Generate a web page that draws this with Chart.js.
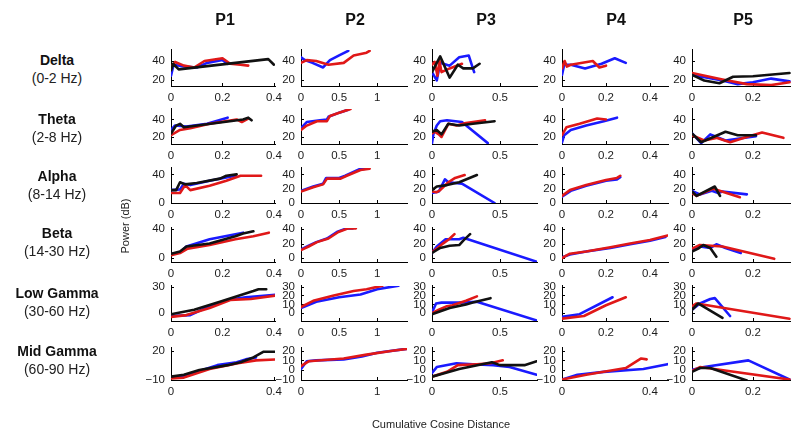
<!DOCTYPE html>
<html>
<head>
<meta charset="utf-8">
<script src="https://cdn.jsdelivr.net/npm/chart.js@4.4.1/dist/chart.umd.min.js"></script>
<style>
    body {
        margin: 0;
        width: 791px;
        height: 435px;
        overflow: hidden;
        background: #fff;
        position: relative;
        font-family: "Liberation Sans", Arial, sans-serif;
    }
    canvas { position: absolute; }
    .label {
        position: absolute;
        white-space: nowrap;
        transform: translate(-50%, -50%);
        color: #111;
    }
    .title { font-weight: bold; font-size: 16px; }
    .band { font-weight: bold; font-size: 14px; }
    .range { font-size: 14px; color: #222; }
    .axis-title { font-size: 11px; color: #222; }
</style>
</head>
<body>
<script>
// power vs cumulative cosine distance, one list per participant (P1..P5), [distance, dB]
const deltaBlue = [
    [[0, 24], [0.01, 36], [0.05, 34], [0.1, 33], [0.14, 38], [0.2, 41], [0.22, 37]],
    [[0, 44], [0.05, 41], [0.15, 38], [0.29, 33], [0.38, 41], [0.5, 46], [0.62, 51]],
    [[0, 28], [0.035, 19], [0.06, 38], [0.13, 35], [0.2, 44], [0.27, 46], [0.29, 37], [0.31, 28]],
    [[0, 25], [0.01, 36], [0.04, 36], [0.105, 32], [0.18, 37], [0.24, 43], [0.29, 38]],
    [[0, 25], [0.1, 19], [0.15, 15], [0.2, 17], [0.26, 21], [0.32, 18]]
];
const deltaRed = [
    [[0, 33], [0.016, 39], [0.05, 35], [0.09, 33], [0.13, 40], [0.2, 43], [0.23, 37], [0.27, 36], [0.3, 35]],
    [[0, 38], [0.075, 41], [0.2, 40], [0.36, 36], [0.56, 38], [0.69, 46], [0.86, 49], [0.9, 51]],
    [[0, 36], [0.02, 39], [0.04, 24], [0.055, 40], [0.07, 28], [0.13, 32], [0.22, 37]],
    [[0, 32], [0.012, 40], [0.022, 34], [0.04, 36], [0.14, 40], [0.17, 33], [0.2, 35]],
    [[0, 27], [0.1, 20], [0.18, 15], [0.26, 14], [0.32, 17]]
];
const deltaBlack = [
    [[0, 30], [0.008, 37], [0.03, 31], [0.378, 42], [0.4, 36]],
    null,
    [[0, 28], [0.06, 45], [0.13, 22], [0.19, 36], [0.23, 32], [0.3, 32], [0.35, 37]],
    null,
    [[0, 25], [0.04, 19], [0.09, 16], [0.135, 23], [0.2, 23.5], [0.32, 27]]
];

const thetaBlue = [
    [[0, 28], [0.015, 33], [0.06, 32], [0.14, 35], [0.22, 42]],
    [[0, 30], [0.075, 37], [0.25, 39], [0.34, 40], [0.36, 43], [0.51, 48], [0.62, 51]],
    [[0, 13], [0.01, 23], [0.035, 33], [0.06, 38], [0.11, 39], [0.22, 37], [0.41, 13]],
    [[0, 14], [0.01, 22], [0.04, 28], [0.11, 33], [0.19, 38], [0.25, 42]],
    [[0, 24], [0.03, 13], [0.06, 23], [0.11, 16], [0.15, 18], [0.21, 21]]
];
const thetaRed = [
    [[0, 22], [0.035, 28], [0.075, 30], [0.15, 35], [0.255, 40], [0.275, 37], [0.3, 41]],
    [[0, 28], [0.075, 33], [0.21, 38], [0.34, 38], [0.38, 44], [0.51, 48], [0.65, 52]],
    [[0, 24], [0.02, 26], [0.05, 23], [0.07, 20], [0.12, 35], [0.18, 33], [0.25, 36], [0.39, 39]],
    [[0, 22], [0.02, 31], [0.08, 35], [0.16, 41], [0.2, 40]],
    [[0, 22], [0.04, 16], [0.08, 19], [0.125, 14], [0.19, 21], [0.23, 25], [0.3, 19]]
];
const thetaBlack = [
    [[0, 24], [0.02, 33], [0.035, 35], [0.05, 31], [0.28, 40], [0.3, 42], [0.313, 39]],
    null,
    [[0, 26], [0.035, 28], [0.07, 23], [0.12, 35], [0.2, 33], [0.3, 35], [0.46, 38]],
    null,
    [[0, 24], [0.03, 14], [0.11, 26], [0.15, 22], [0.21, 22]]
];

const alphaBlue = [
    [[0, 18], [0.035, 19], [0.05, 27], [0.075, 25], [0.15, 31], [0.25, 38]],
    [[0, 17], [0.16, 23], [0.29, 27], [0.33, 35], [0.5, 35], [0.58, 38], [0.76, 47], [0.85, 48]],
    [[0, 14], [0.05, 16], [0.095, 33], [0.12, 29], [0.22, 27], [0.46, 0]],
    [[0, 9], [0.04, 17], [0.11, 24], [0.2, 31], [0.25, 33], [0.265, 36]],
    [[0, 17], [0.026, 12], [0.065, 17], [0.086, 14], [0.1, 16], [0.18, 12]]
];
const alphaRed = [
    [[0, 14], [0.035, 14], [0.055, 25], [0.075, 18], [0.15, 24], [0.215, 31], [0.27, 38], [0.35, 38]],
    [[0, 16], [0.16, 22], [0.29, 26], [0.34, 34], [0.52, 34], [0.6, 38], [0.78, 46], [0.9, 48]],
    [[0, 16], [0.035, 15], [0.06, 18], [0.12, 29], [0.17, 35], [0.24, 39]],
    [[0, 10], [0.036, 18], [0.11, 25], [0.2, 32], [0.25, 35], [0.265, 38]],
    [[0, 14], [0.015, 10], [0.07, 20], [0.157, 8]]
];
const alphaBlack = [
    [[0, 18], [0.02, 18], [0.035, 29], [0.055, 26], [0.1, 28], [0.19, 34], [0.215, 38], [0.255, 40]],
    null,
    [[0, 18], [0.035, 23], [0.11, 25], [0.2, 29], [0.33, 39]],
    null,
    [[0, 16], [0.015, 10], [0.075, 23], [0.092, 10]]
];

const betaBlue = [
    [[0, 5], [0.035, 8], [0.06, 16], [0.15, 26], [0.28, 35]],
    [[0, 12], [0.1, 17], [0.2, 22], [0.34, 27], [0.47, 36], [0.6, 41], [0.68, 41]],
    [[0, 7], [0.035, 16], [0.1, 26], [0.2, 26], [0.23, 28], [0.77, -5]],
    [[0, 1], [0.036, 5], [0.11, 9], [0.22, 14], [0.31, 19], [0.4, 24], [0.47, 29]],
    [[0, 11], [0.026, 16], [0.06, 14], [0.08, 19], [0.11, 14], [0.16, 7]]
];
const betaRed = [
    [[0, 4], [0.035, 7], [0.065, 13], [0.15, 18], [0.25, 26], [0.32, 30], [0.38, 35]],
    [[0, 11], [0.1, 16], [0.21, 22], [0.36, 27], [0.49, 36], [0.62, 41], [0.72, 41]],
    [[0, 8], [0.035, 13], [0.08, 20], [0.125, 26], [0.165, 33]],
    [[0, 0], [0.036, 6], [0.11, 9], [0.22, 15], [0.31, 20], [0.4, 25], [0.48, 31]],
    [[0, 13], [0.026, 18], [0.1, 16], [0.27, -1]]
];
const betaBlack = [
    [[0, 6], [0.035, 9], [0.06, 16], [0.15, 20], [0.25, 30], [0.28, 34], [0.32, 37]],
    null,
    [[0, 7], [0.06, 14], [0.13, 17], [0.2, 18], [0.23, 24], [0.28, 33]],
    null,
    [[0, 9], [0.02, 13], [0.037, 18], [0.06, 14], [0.08, 2]]
];

const lowGammaBlue = [
    [[0, -3], [0.075, -2], [0.15, 8], [0.22, 15], [0.29, 18], [0.41, 21]],
    [[0, 6], [0.2, 13], [0.5, 18], [0.78, 21], [1.0, 27], [1.28, 31]],
    [[0, 1], [0.03, 11], [0.07, 12], [0.2, 12], [0.33, 13], [0.77, -8]],
    [[0, -4], [0.08, -1], [0.23, 18]],
    [[0, 4], [0.026, 11], [0.06, 16], [0.075, 17], [0.125, -3]]
];
const lowGammaRed = [
    [[0, -4], [0.06, -2], [0.15, 6], [0.23, 15], [0.31, 16], [0.41, 20]],
    [[0, 7], [0.16, 14], [0.43, 20], [0.69, 25], [0.86, 27], [1.07, 31]],
    [[0, 0], [0.05, 4], [0.11, 8], [0.15, 9], [0.25, 14], [0.33, 19]],
    [[0, -6], [0.1, -3], [0.2, 9], [0.29, 18]],
    [[0, 8], [0.015, 11], [0.32, -6]]
];
const lowGammaBlack = [
    [[0, -1], [0.035, 1], [0.09, 4], [0.19, 13], [0.32, 25], [0.34, 27], [0.37, 27]],
    null,
    [[0, -1], [0.13, 6], [0.25, 10], [0.3, 12], [0.43, 17]],
    null,
    [[0, 4], [0.02, 11], [0.1, -5]]
];

const midGammaBlue = [
    [[0, -8], [0.05, -7], [0.11, -1], [0.18, 5], [0.255, 8], [0.29, 11], [0.33, 13]],
    [[0, 1], [0.075, 9], [0.2, 10], [0.56, 11], [0.8, 14], [1.0, 18], [1.38, 22]],
    [[0, -3], [0.035, 3], [0.18, 7], [0.3, 6], [0.45, 5], [0.57, 3], [0.77, -5]],
    [[0, -10], [0.07, -5], [0.19, -2], [0.37, 1], [0.48, 6]],
    [[0, 0], [0.04, 3], [0.185, 10], [0.32, -10]]
];
const midGammaRed = [
    [[0, -9], [0.05, -8], [0.15, 1], [0.26, 7], [0.33, 10], [0.41, 11]],
    [[0, 4], [0.1, 9], [0.56, 12], [0.86, 16], [1.2, 20], [1.39, 22]],
    [[0, -7], [0.11, -2], [0.19, 5], [0.33, 6], [0.43, 7], [0.52, 10]],
    [[0, -10], [0.11, -5], [0.29, 2], [0.36, 12], [0.385, 11]],
    [[0, -1], [0.026, 3], [0.32, -10]]
];
const midGammaBlack = [
    [[0, -7], [0.05, -5], [0.11, 0], [0.22, 5], [0.27, 8], [0.32, 13], [0.36, 19], [0.41, 19]],
    null,
    [[0, -7], [0.2, 1], [0.44, 8], [0.5, 5], [0.68, 5], [0.77, 9]],
    null,
    [[0, -2], [0.026, 2], [0.06, 2], [0.18, -11]]
];

const participants = ['P1', 'P2', 'P3', 'P4', 'P5'];
const bands = ['Delta', 'Theta', 'Alpha', 'Beta', 'Low Gamma', 'Mid Gamma'];
const bandRanges = ['(0-2 Hz)', '(2-8 Hz)', '(8-14 Hz)', '(14-30 Hz)', '(30-60 Hz)', '(60-90 Hz)'];

const blueSets = [deltaBlue, thetaBlue, alphaBlue, betaBlue, lowGammaBlue, midGammaBlue];
const redSets = [deltaRed, thetaRed, alphaRed, betaRed, lowGammaRed, midGammaRed];
const blackSets = [deltaBlack, thetaBlack, alphaBlack, betaBlack, lowGammaBlack, midGammaBlack];

// axis limits and tick labels
const xMax = [0.404, 1.39, 0.772, 0.482, 0.348];
const xTicks = [[0, 0.2, 0.4], [0, 0.5, 1], [0, 0.5], [0, 0.2, 0.4], [0, 0.2]];
const xTicksBottom = [[0, 0.4], [0, 1], [0, 0.5], [0, 0.4], [0, 0.2]];
const yLimits = [[13, 52], [12, 52], [0, 49], [-5.4, 41.6], [-8.6, 30.7], [-10.5, 23]];
const yTicks = [[20, 40], [20, 40], [0, 20, 40], [0, 20, 40], [0, 10, 20, 30], [-10, 0, 10, 20]];
const yTicksFirst = [[20, 40], [20, 40], [0, 40], [0, 40], [0, 30], [-10, 20]];

// grid of axes on the page
const colLeft = [171, 301, 432, 562, 692];
const colWidth = [104, 106, 105, 106, 106];
const rowTop = [50, 109, 168, 228, 286, 348];
const rowHeight = [39, 38, 38, 37, 38, 35];
const PAD_L = 32, PAD_R = 14, PAD_T = 10, PAD_B = 22;

const FONT = '"Liberation Sans", Arial, sans-serif';

function addLabel(text, cls, x, y, rotate) {
    const div = document.createElement('div');
    div.className = 'label ' + cls;
    div.textContent = text;
    div.style.left = x + 'px';
    div.style.top = y + 'px';
    if (rotate) {
        div.style.transform = 'translate(-50%, -50%) rotate(-90deg)';
    }
    document.body.appendChild(div);
}

function fmt(v) {
    return v < 0 ? '\u2212' + (-v) : String(v);
}

// small inward tick marks, like the axes of a matlab figure
const inwardTicks = {
    id: 'inwardTicks',
    beforeDatasetsDraw(chart) {
        const { ctx, chartArea: a, scales: { x, y } } = chart;
        ctx.save();
        ctx.strokeStyle = '#000';
        ctx.lineWidth = 1;
        ctx.beginPath();
        x.ticks.forEach(t => {
            const px = Math.round(x.getPixelForValue(t.value)) + 0.5;
            ctx.moveTo(px, a.bottom);
            ctx.lineTo(px, a.bottom - 3);
        });
        y.ticks.forEach(t => {
            const py = Math.round(y.getPixelForValue(t.value)) + 0.5;
            ctx.moveTo(a.left, py);
            ctx.lineTo(a.left + 3, py);
        });
        ctx.stroke();
        ctx.restore();
    }
};

function series(points, color) {
    return {
        data: points.map(p => ({ x: p[0], y: p[1] })),
        borderColor: color,
        borderWidth: 2.6,
        pointRadius: 0,
        tension: 0,
        fill: false,
        borderJoinStyle: 'round',
        borderCapStyle: 'round'
    };
}

function drawCell(r, c) {
    const w = colWidth[c] + PAD_L + PAD_R;
    const h = rowHeight[r] + PAD_T + PAD_B;
    const canvas = document.createElement('canvas');
    canvas.width = w;
    canvas.height = h;
    canvas.style.width = w + 'px';
    canvas.style.height = h + 'px';
    canvas.style.left = (colLeft[c] - PAD_L) + 'px';
    canvas.style.top = (rowTop[r] - PAD_T) + 'px';
    document.body.appendChild(canvas);

    // first dataset ends up on top
    const datasets = [];
    if (blackSets[r][c]) datasets.push(series(blackSets[r][c], '#111111'));
    datasets.push(series(redSets[r][c], '#e01818'));
    datasets.push(series(blueSets[r][c], '#1a1aff'));

    const xt = r === bands.length - 1 ? xTicksBottom[c] : xTicks[c];
    const yt = c === 0 ? yTicksFirst[r] : yTicks[r];
    const tickFont = { family: FONT, size: 11.5 };

    const chart = new Chart(canvas, {
        type: 'line',
        data: { datasets },
        plugins: [inwardTicks],
        options: {
            responsive: false,
            animation: false,
            events: [],
            layout: { padding: { left: 0, right: PAD_R, top: PAD_T, bottom: 0 } },
            plugins: { legend: { display: false }, tooltip: { enabled: false } },
            scales: {
                x: {
                    type: 'linear',
                    min: 0,
                    max: xMax[c],
                    afterBuildTicks: s => { s.ticks = xt.map(v => ({ value: v })); },
                    afterFit: s => { s.height = PAD_B; },
                    grid: { display: false, drawTicks: false },
                    border: { display: true, color: '#000', width: 1 },
                    ticks: { padding: 5, color: '#1c1c1c', font: tickFont, maxRotation: 0, autoSkip: false, callback: fmt }
                },
                y: {
                    type: 'linear',
                    min: yLimits[r][0],
                    max: yLimits[r][1],
                    afterBuildTicks: s => { s.ticks = yt.map(v => ({ value: v })); },
                    afterFit: s => { s.width = PAD_L; },
                    grid: { display: false, drawTicks: false },
                    border: { display: true, color: '#000', width: 1 },
                    ticks: { padding: 6, color: '#1c1c1c', font: tickFont, autoSkip: false, callback: fmt }
                }
            }
        }
    });

    // line the plot area up with its place in the grid
    const a = chart.chartArea;
    canvas.style.left = (colLeft[c] - a.left) + 'px';
    canvas.style.top = (rowTop[r] - a.top) + 'px';
}

for (let r = 0; r < bands.length; r++) {
    for (let c = 0; c < participants.length; c++) {
        drawCell(r, c);
    }
}

const titleX = [225, 355, 486, 616, 743];
participants.forEach((p, i) => addLabel(p, 'title', titleX[i], 20));

const bandY = [60, 119, 176, 233, 293, 351];
bands.forEach((b, i) => {
    addLabel(b, 'band', 57, bandY[i]);
    addLabel(bandRanges[i], 'range', 57, bandY[i] + 18);
});

addLabel('Power (dB)', 'axis-title', 125, 226, true);
addLabel('Cumulative Cosine Distance', 'axis-title', 441, 424);
</script>
</body>
</html>
